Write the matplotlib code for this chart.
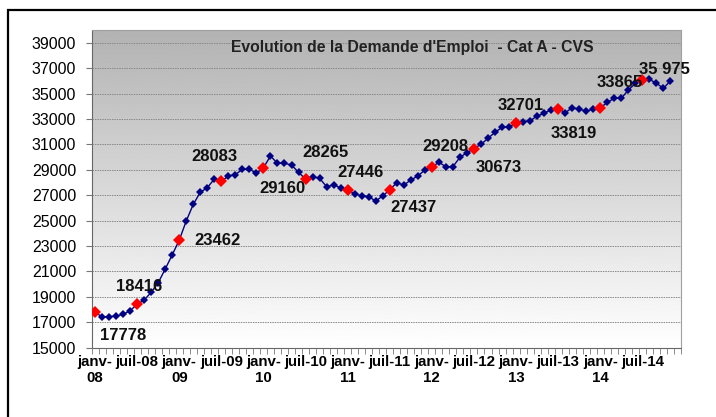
import numpy as np
import matplotlib.pyplot as plt
from matplotlib.patches import Rectangle

plt.rcParams['font.family'] = ['Liberation Sans', 'DejaVu Sans']

# monthly values, janv-08 .. nov-14
values = [17778, 17440, 17440, 17490, 17620, 17910, 18416, 18750, 19360, 20100,
          21190, 22300, 23462, 24970, 26280, 27230, 27590, 28275, 28083, 28510,
          28620, 29040, 29060, 28720, 29160, 30085, 29510, 29510, 29380, 28800,
          28265, 28455, 28330, 27670, 27800, 27590, 27446, 27095, 26960, 26880,
          26545, 26940, 27437, 27980, 27800, 28195, 28510, 28985, 29208, 29590,
          29245, 29245, 29985, 30345, 30673, 31000, 31480, 31950, 32340, 32340,
          32701, 32785, 32865, 33230, 33445, 33730, 33819, 33490, 33885, 33760,
          33625, 33760, 33865, 34310, 34625, 34625, 35280, 35800, 36100, 36120,
          35805, 35410, 36010]
n_cat = 84
years = ['08', '09', '10', '11', '12', '13', '14']
tick_labels = []
for y in years:
    tick_labels += ['janv-\n' + y, 'juil-' + y]

# highlighted points (every 6 months) and their labels
red_idx = list(range(0, 79, 6))
red_text = ['17778', '18416', '23462', '28083', '29160', '28265', '27446',
            '27437', '29208', '30673', '32701', '33819', '33865', '35 975']
# label offsets in pixels (dx, dy)
offsets = [(28, -23), (2, 18), (38, 0), (-7, 25), (19, -21), (20, 27), (13, 17),
           (24, -18), (14, 21), (25, -19), (5, 17), (16, -25), (19, 25), (22, 10)]

fig = plt.figure(figsize=(7.16, 4.17), dpi=100)
ax = fig.add_axes([91.5 / 716, 1 - 347.7 / 417, (681 - 91.5) / 716, (347.7 - 30) / 417])

# gradient background
grad = np.linspace(1.0, 0.70, 256).reshape(-1, 1)
ax.imshow(grad, cmap='gray', vmin=0, vmax=1, aspect='auto',
          extent=[-0.5, n_cat - 0.5, 15000, 40000], origin='lower', zorder=0)

x = np.arange(len(values))
ax.plot(x, values, color='#000080', lw=1.0, marker='D', ms=4.3, mew=0, zorder=3)
ax.plot(x[red_idx], np.array(values)[red_idx], ls='none', marker='D', ms=5.8,
        mew=0, color='#ff0000', zorder=4)

for i, t, (dx, dy) in zip(red_idx, red_text, offsets):
    ax.annotate(t, (i, values[i]), xytext=(dx, dy), textcoords='offset pixels',
                ha='center', va='center', fontsize=12, fontweight='bold',
                color='#111111', zorder=5)

ax.text(0.545, 0.946, "Evolution de la Demande d'Emploi  - Cat A - CVS",
        transform=ax.transAxes, ha='center', va='center', fontsize=11.3,
        fontweight='bold', color='#222222', zorder=5)

ax.set_xlim(-0.5, n_cat - 0.5)
ax.set_ylim(15000, 40000)
ax.set_yticks(np.arange(15000, 40001, 2000))
ax.yaxis.grid(True, color='#888888', ls=(0, (1.5, 1)), lw=0.7)
ax.set_axisbelow(False)
ax.tick_params(axis='y', length=4, color='#777777', pad=7, labelsize=11.5)

ax.set_xticks(np.arange(0, 79, 6))
ax.set_xticklabels(tick_labels, fontweight='bold', fontsize=10.8)
ax.set_xticks(np.arange(-0.5, n_cat, 1), minor=True)
ax.tick_params(axis='x', which='major', length=0, pad=5)
ax.tick_params(axis='x', which='minor', length=4, color='#777777')

for s in ['left', 'bottom']:
    ax.spines[s].set_color('#666666')
for s in ['top', 'right']:
    ax.spines[s].set_color('#a0a0a0')

fig.patches.append(Rectangle((8 / 716, -0.05), 1.1, 1 - 10 / 417 + 0.05,
                             transform=fig.transFigure, fill=False,
                             edgecolor='black', lw=1.6))

fig.savefig('out.png', dpi=100)
